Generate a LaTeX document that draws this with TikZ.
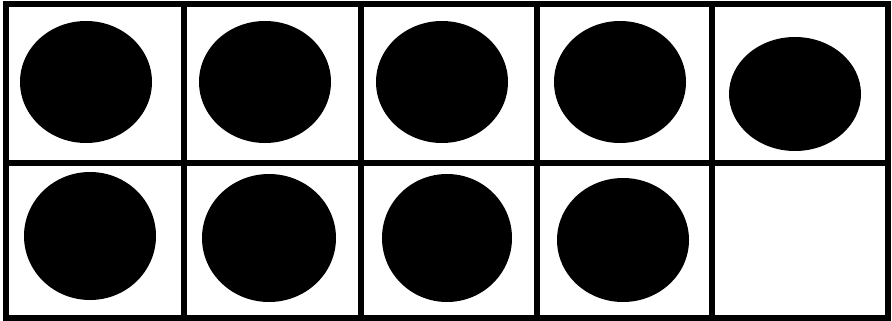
\documentclass[tikz,border=0pt]{standalone}
\begin{document}
\begin{tikzpicture}[x=1pt,y=-1pt,
  frameline/.style={draw=black,line width=6pt},
  dot/.style={fill=black,draw=none}]
\useasboundingbox (0,0) rectangle (892,321);
\fill[white] (0,0) rectangle (892,321);
% grid
\draw[frameline] (6,4) rectangle (888,318);
\draw[frameline] (6,163) -- (888,163);
\foreach \x in {183.5,361,537,712} \draw[frameline] (\x,4) -- (\x,318);
% dots top row
\fill[dot] (86,82) ellipse [x radius=66, y radius=61];
\fill[dot] (265,82) ellipse [x radius=66, y radius=61];
\fill[dot] (442,82) ellipse [x radius=66, y radius=61];
\fill[dot] (620,82) ellipse [x radius=66, y radius=61];
\fill[dot] (795,94) ellipse [x radius=66, y radius=57];
% dots bottom row
\fill[dot] (90,236) ellipse [x radius=66, y radius=64];
\fill[dot] (269,238) ellipse [x radius=67, y radius=64];
\fill[dot] (447,238) ellipse [x radius=65, y radius=64];
\fill[dot] (623,240) ellipse [x radius=66, y radius=62];
\end{tikzpicture}
\end{document}
